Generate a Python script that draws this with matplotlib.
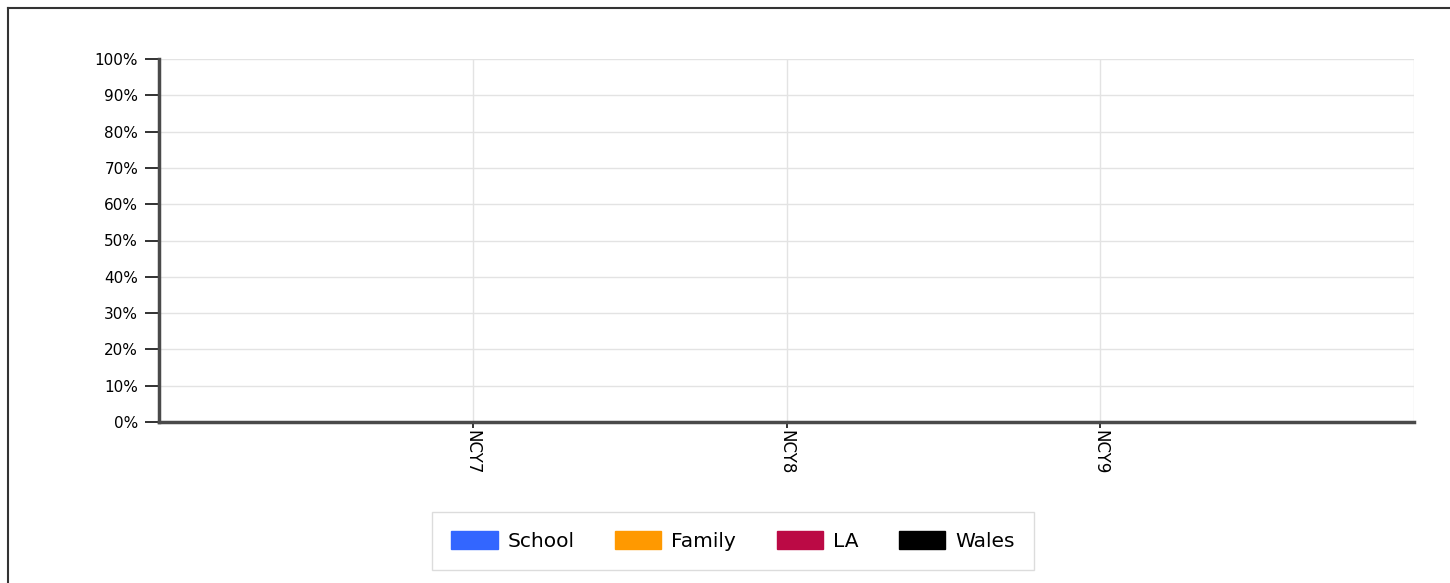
import numpy as np
import matplotlib.pyplot as plt
from matplotlib.patches import Patch
from matplotlib.lines import Line2D
from matplotlib.ticker import PercentFormatter

categories = ["NCY7", "NCY8", "NCY9"]
series = ["School", "Family", "LA", "Wales"]
colors = ["#3366FF", "#FF9900", "#BB0A45", "#000000"]
# no results recorded for any group
school = [0, 0, 0]
family = [0, 0, 0]
la = [0, 0, 0]
wales = [0, 0, 0]
values = [school, family, la, wales]

W, H = 1450, 583
fig = plt.figure(figsize=(W / 100, H / 100), dpi=100)
ax = fig.add_axes([159 / W, 1 - 422 / H, (1414 - 159) / W, (422 - 59) / H])

x = np.arange(1, len(categories) + 1)
bw = 0.15
for i, (name, vals) in enumerate(zip(series, values)):
    ax.bar(x + (i - 1.5) * bw, vals, bw, color=colors[i], linewidth=0)

ax.set_xlim(0, 4)
ax.set_ylim(0, 100)
ax.set_yticks(np.arange(0, 101, 10))
ax.yaxis.set_major_formatter(PercentFormatter(decimals=0))
ax.set_xticks(x)
ax.set_xticklabels(categories, rotation=270, fontsize=12)
ax.tick_params(axis="y", labelsize=11, length=10, width=1.3, color="#222222", pad=5)
ax.tick_params(axis="x", length=4, width=1.3, color="#222222", pad=2)

ax.set_xticks([4], minor=True)
ax.grid(True, which="both", color="#e3e3e3", linewidth=1)
ax.set_axisbelow(True)
for s in ["top", "right"]:
    ax.spines[s].set_visible(False)
for s in ["left", "bottom"]:
    ax.spines[s].set_color("#4a4a4a")
    ax.spines[s].set_linewidth(2.5)
ax.tick_params(axis="x", which="minor", length=0)

handles = [Patch(facecolor=c, edgecolor=c) for c in colors]
leg = fig.legend(handles, series, loc="center", bbox_to_anchor=(733 / W, 1 - 541 / H),
                 ncol=4, fontsize=14.5, frameon=True, fancybox=False,
                 handlelength=2.3, handleheight=1.0, columnspacing=2.0,
                 handletextpad=0.5, borderpad=0.95, borderaxespad=0)
leg.get_frame().set_edgecolor("#d4d4d4")
leg.get_frame().set_linewidth(1)

# outer frame
fig.add_artist(Line2D([8 / W, 8 / W], [0, 1 - 8 / H], color="#333333", linewidth=1.5,
                      transform=fig.transFigure))
fig.add_artist(Line2D([8 / W, 1], [1 - 8 / H, 1 - 8 / H], color="#333333", linewidth=1.5,
                      transform=fig.transFigure))

fig.savefig("out.png", dpi=100)
